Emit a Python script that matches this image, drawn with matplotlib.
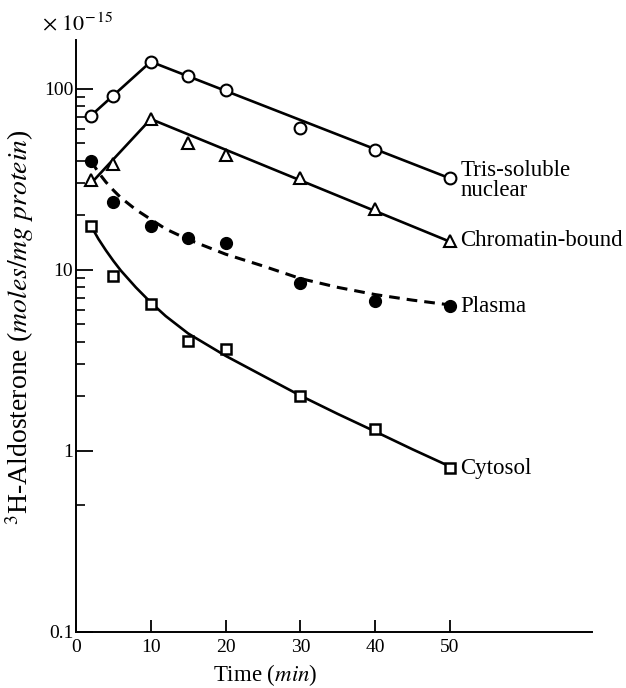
import matplotlib
matplotlib.use('Agg')
import matplotlib.pyplot as plt
from matplotlib.ticker import FixedLocator, NullFormatter

plt.rcParams['font.family'] = ['Liberation Serif', 'DejaVu Serif']
plt.rcParams['mathtext.fontset'] = 'stix'

# measured points (x 10^-15 moles/mg protein)
t = [2, 5, 10, 15, 20, 30, 40, 50]
tris = [71, 91, 141, 118, 99, 61, 46, 32]
chromatin = [31.4, 38.5, 68, 50, 43, 32, 21.7, 14.5]
plasma = [40, 23.8, 17.5, 15, 14.1, 8.5, 6.7, 6.3]
cytosol = [17.5, 9.3, 6.5, 4.06, 3.66, 2.01, 1.32, 0.805]

# fitted lines as drawn
tris_fit_t = [2, 10, 50]
tris_fit = [71, 141, 32]
chrom_fit_t = [2, 10, 50]
chrom_fit = [30, 68, 14.3]
curve_t = [2, 3, 4, 5, 6, 8, 10, 12, 15, 20, 25, 30, 35, 40, 45, 50]
plasma_fit = [40, 34.5, 30.5, 27.5, 25, 21.5, 19, 16.8, 14.7, 12.2, 10.5, 8.95, 8.0, 7.3, 6.8, 6.4]
cytosol_fit = [17.5, 14.8, 12.8, 11.2, 9.9, 8.0, 6.6, 5.55, 4.45, 3.35, 2.6, 2.02, 1.6, 1.28, 1.02, 0.82]

fig = plt.figure(figsize=(6.26, 6.88), dpi=100)
ax = fig.add_axes([0.1214, 0.0814, 0.8243, 0.8606])

k = 'black'
ax.plot(tris_fit_t, tris_fit, color=k, lw=1.9)
ax.plot(chrom_fit_t, chrom_fit, color=k, lw=1.9)
ax.plot(curve_t, plasma_fit, color=k, lw=2.2, linestyle=(0, (3.5, 2.3)))
ax.plot(curve_t, cytosol_fit, color=k, lw=1.9)

ax.plot(t, tris, 'o', ms=8.5, mfc='white', mec=k, mew=1.5)
ax.plot(t, chromatin, '^', ms=8.5, mfc='white', mec=k, mew=1.5)
ax.plot(t, plasma, 'o', ms=8.5, mfc=k, mec=k)
ax.plot(t, cytosol, 's', ms=7.5, mfc='white', mec=k, mew=1.8)

ax.set_yscale('log')
ax.set_xlim(0, 69)
ax.set_ylim(0.1, 186)

ax.spines['top'].set_visible(False)
ax.spines['right'].set_visible(False)
for s in ['left', 'bottom']:
    ax.spines[s].set_linewidth(1.4)

ax.set_xticks([0, 10, 20, 30, 40, 50])
ax.set_yticks([0.1, 1, 10, 100])
ax.set_yticklabels(['0.1', '1', '10', '100'])
ax.yaxis.set_minor_locator(FixedLocator([0.5] + list(range(2, 10)) + list(range(20, 100, 10))))
ax.yaxis.set_minor_formatter(NullFormatter())
ax.tick_params(axis='both', which='major', direction='in', labelsize=14, width=1.3)
ax.tick_params(axis='y', which='major', length=12, pad=2)
ax.tick_params(axis='x', which='major', length=9, pad=5)
ax.tick_params(axis='y', which='minor', direction='in', length=6.5, width=1.2)

ax.set_ylabel(r'$^{3}$H-Aldosterone ($\it{moles/mg\ protein}$)', fontsize=20)
ax.yaxis.set_label_coords(-0.078, 0.515)
ax.set_xlabel(r'Time ($\it{min}$)', fontsize=16.5)
ax.xaxis.set_label_coords(0.366, -0.05)

ax.text(-0.066, 1.027, r'$\times\ 10^{-\,15}$', transform=ax.transAxes, fontsize=16, ha='left', va='center')

lab = dict(fontsize=16.5, va='center', ha='left')
ax.text(51.4, 31, 'Tris-soluble\nnuclear', linespacing=0.95, **lab)
ax.text(51.4, 14.5, 'Chromatin-bound', **lab)
ax.text(51.4, 6.3, 'Plasma', **lab)
ax.text(51.4, 0.8, 'Cytosol', **lab)

fig.savefig('out.png', dpi=100)
